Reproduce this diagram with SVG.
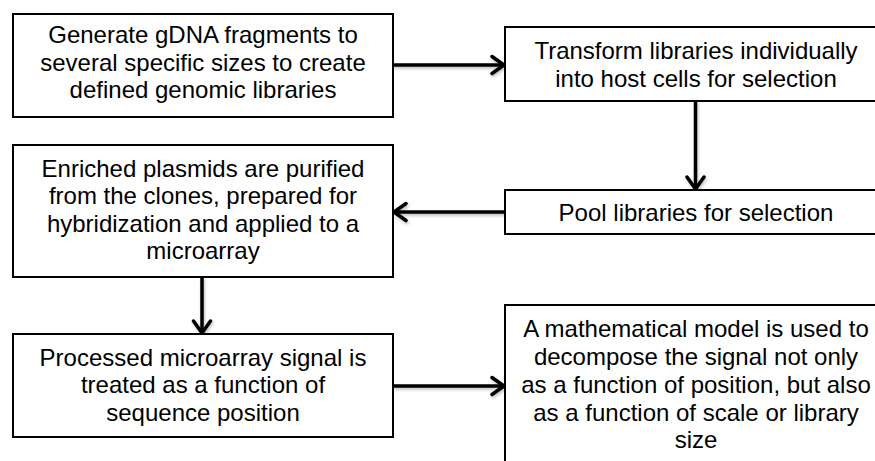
<svg xmlns="http://www.w3.org/2000/svg" width="875" height="461" viewBox="0 0 875 461">
  <style>
    .box { fill: #ffffff; stroke: #000000; stroke-width: 2; }
    .label { font-family: "Liberation Sans", Arial, sans-serif; font-size: 24px; fill: #000000; text-anchor: middle; }
    .conn { stroke: #000000; stroke-width: 3.5; fill: none; marker-end: url(#chevron); }
  </style>
  <defs>
    <marker id="chevron" viewBox="-15 -12 17 24" refX="0" refY="0" markerWidth="17" markerHeight="24" markerUnits="userSpaceOnUse" orient="auto">
      <path d="M -12,-8.5 L 0,0 L -12,8.5" fill="none" stroke="#000000" stroke-width="3.5" stroke-linecap="round" stroke-linejoin="miter"/>
    </marker>
    <!-- user-space region so straight horizontal/vertical lines are not clipped -->
    <filter id="soft" filterUnits="userSpaceOnUse" x="0" y="0" width="875" height="461">
      <feDropShadow dx="1" dy="2" stdDeviation="1.5" flood-color="#000000" flood-opacity="0.25"/>
    </filter>
  </defs>

  <rect width="875" height="461" fill="#ffffff"/>

  <g id="connectors" filter="url(#soft)">
    <line class="conn" x1="393" y1="65" x2="504" y2="65"/>
    <line class="conn" x1="695.5" y1="101" x2="695.5" y2="189"/>
    <line class="conn" x1="505" y1="212" x2="394" y2="212"/>
    <line class="conn" x1="202" y1="277" x2="202" y2="333"/>
    <line class="conn" x1="393" y1="386" x2="504" y2="386"/>
  </g>

  <g id="generate">
    <rect class="box" x="13" y="14" width="380" height="103"/>
    <text class="label" x="203" y="42.5">Generate gDNA fragments to</text>
    <text class="label" x="203" y="70.5">several specific sizes to create</text>
    <text class="label" x="203" y="97.5">defined genomic libraries</text>
  </g>

  <g id="transform">
    <rect class="box" x="505" y="27" width="380" height="74"/>
    <text class="label" x="696" y="59">Transform libraries individually</text>
    <text class="label" x="696" y="87">into host cells for selection</text>
  </g>

  <g id="pool">
    <rect class="box" x="505" y="190" width="380" height="44"/>
    <text class="label" x="696" y="221">Pool libraries for selection</text>
  </g>

  <g id="enriched">
    <rect class="box" x="13" y="145" width="380" height="132"/>
    <text class="label" x="203" y="176.5">Enriched plasmids are purified</text>
    <text class="label" x="203" y="204">from the clones, prepared for</text>
    <text class="label" x="203" y="231.5">hybridization and applied to a</text>
    <text class="label" x="203" y="258.5">microarray</text>
  </g>

  <g id="processed">
    <rect class="box" x="13" y="334" width="380" height="103"/>
    <text class="label" x="203" y="365.5">Processed microarray signal is</text>
    <text class="label" x="203" y="393">treated as a function of</text>
    <text class="label" x="203" y="420.5">sequence position</text>
  </g>

  <g id="model">
    <rect class="box" x="505" y="305" width="380" height="170"/>
    <text class="label" x="696" y="337">A mathematical model is used to</text>
    <text class="label" x="696" y="364.5">decompose the signal not only</text>
    <text class="label" x="696" y="392.5">as a function of position, but also</text>
    <text class="label" x="696" y="420.5">as a function of scale or library</text>
    <text class="label" x="696" y="448">size</text>
  </g>
</svg>
